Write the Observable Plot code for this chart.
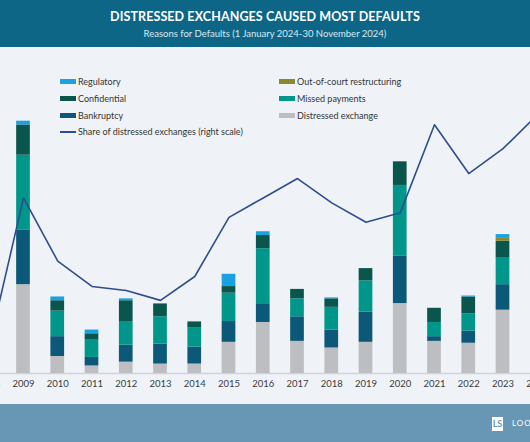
<!DOCTYPE html>
<html><head><meta charset="utf-8">
<script src="https://cdn.jsdelivr.net/npm/d3@7"></script>
<script src="https://cdn.jsdelivr.net/npm/@observablehq/plot@0.6"></script>
<style>
html,body{margin:0;padding:0;width:530px;height:442px;overflow:hidden;background:#eff3f8;font-family:Lato,"Open Sans",sans-serif;}
#header{position:absolute;left:0;top:0;width:530px;height:47px;background:#0e6687;}
#title{position:absolute;top:9px;left:0;width:100%;text-align:center;color:#fff;font-weight:700;font-size:12.5px;letter-spacing:0.1px;}
#subtitle{position:absolute;top:28px;left:0;width:100%;text-align:center;color:#dce8f0;font-size:9.5px;}
#chart{position:absolute;left:0;top:47px;width:530px;height:357px;overflow:hidden;}
#footer{position:absolute;left:0;top:404px;width:530px;height:38px;background:#6897b5;}
#logo{position:absolute;left:492px;top:13px;width:11px;height:14px;background:#fff;color:#6897b5;font-size:9px;font-weight:700;line-height:14px;text-align:center;}
#logotext{position:absolute;left:512px;top:14px;color:#fff;font-size:8px;letter-spacing:1px;white-space:nowrap;}
.leg{position:absolute;font-size:9px;color:#333;white-space:nowrap;line-height:12px;}
.sw{display:inline-block;width:16px;height:5px;vertical-align:middle;margin-right:2px;position:relative;top:-1px;}
.ln{display:inline-block;width:16px;height:1.5px;vertical-align:middle;margin-right:2px;position:relative;top:-1px;}
</style>
</head><body>
<div id="header"><div id="title">DISTRESSED EXCHANGES CAUSED MOST DEFAULTS</div><div id="subtitle">Reasons for Defaults (1 January 2024-30 November 2024)</div></div>
<div id="chart"></div>
<div id="legend"></div>
<div id="footer"><div id="logo">LS</div><div id="logotext">LOOMIS SAYLES</div></div>
<script>
// Data (number of defaults by reason, 2009-2023) and share of distressed exchanges (%, right scale, 2008-2024)
const lineYears = ["2008","2009","2010","2011","2012","2013","2014","2015","2016","2017","2018","2019","2020","2021","2022","2023","2024"];
const barYears  = ["2009","2010","2011","2012","2013","2014","2015","2016","2017","2018","2019","2020","2021","2022","2023"];
const distressedExchange = [94,18,8,12,10,10,33,54,34,27,33,74,34,32,67];
const bankruptcy         = [58,21,9,18,21,18,22,19,26,19,32,50,5,13,27];
const missedPayments     = [79,27,19,25,29,20,30,59,19,24,33,75,15,18,28];
const confidential       = [32,11,6,22,13,6,7,14,10,9,13,25,15,18,18];
const outOfCourt         = [0,0,0,0,0,0,0,0,0,0,0,0,0,0,3];
const regulatory         = [4,4,4,2,1,1,13,4,0,1,0,0,0,1,4];
const shareDistressed    = [5.6,35.3,22.6,17.5,16.7,14.7,19.5,31.4,35.3,39.2,34.3,30.4,32.3,50,40.2,45.2,52];
const seriesNames  = ["Distressed exchange","Bankruptcy","Missed payments","Confidential","Out-of-court restructuring","Regulatory"];
const seriesColors = ["#bdbec2","#0b5878","#009689","#0b564c","#878a2d","#1ba1e2"];
const lineName = "Share of distressed exchanges (right scale)";
const lineColor = "#2d4d8c";

const seriesValues = [distressedExchange, bankruptcy, missedPayments, confidential, outOfCourt, regulatory];
const rows = seriesNames.flatMap((name, s) => barYears.map((year, i) => ({year, type: name, value: seriesValues[s][i]})));
const lineRows = lineYears.map((year, i) => ({year, share: shareDistressed[i]}));

const leftMax = 300;   // left scale top (defaults)
const rightMax = 57;   // right scale top (%)

const chart = Plot.plot({
  width: 530, height: 357,
  marginLeft: 0, marginRight: 0, marginTop: 0, marginBottom: 31,
  style: {background: "transparent", overflow: "hidden", fontFamily: "Lato, sans-serif"},
  x: {type: "band", domain: lineYears, range: [-38.65, 564.15], padding: 0.6, round: false, axis: null},
  y: {domain: [0, leftMax], range: [326, 42.5], axis: null},
  color: {domain: seriesNames, range: seriesColors},
  marks: [
    Plot.ruleY([0], {stroke: "#cfd4da", strokeWidth: 1.5}),
    Plot.barY(rows, {x: "year", y: "value", fill: "type"}),
    Plot.line(lineRows, {x: "year", y: d => d.share / rightMax * leftMax, stroke: lineColor, strokeWidth: 1.6}),
    Plot.axisX({tickSize: 0, tickPadding: 7, fontSize: 9.5, fill: "#3a3a3a", label: null})
  ]
});
document.getElementById("chart").appendChild(chart);

// Legend
const legendItems = [
  {name: "Regulatory", col: 0, row: 0},
  {name: "Confidential", col: 0, row: 1},
  {name: "Bankruptcy", col: 0, row: 2},
  {name: lineName, col: 0, row: 3, line: true},
  {name: "Out-of-court restructuring", col: 1, row: 0},
  {name: "Missed payments", col: 1, row: 1},
  {name: "Distressed exchange", col: 1, row: 2}
];
const leg = document.getElementById("legend");
for (const it of legendItems) {
  const d = document.createElement("div");
  d.className = "leg";
  d.style.left = (it.col ? 279 : 60) + "px";
  d.style.top = (76 + it.row * 16.8) + "px";
  const sw = document.createElement("span");
  sw.className = it.line ? "ln" : "sw";
  sw.style.background = it.line ? lineColor : seriesColors[seriesNames.indexOf(it.name)];
  d.appendChild(sw);
  d.appendChild(document.createTextNode(it.name));
  leg.appendChild(d);
}
</script>
</body></html>
